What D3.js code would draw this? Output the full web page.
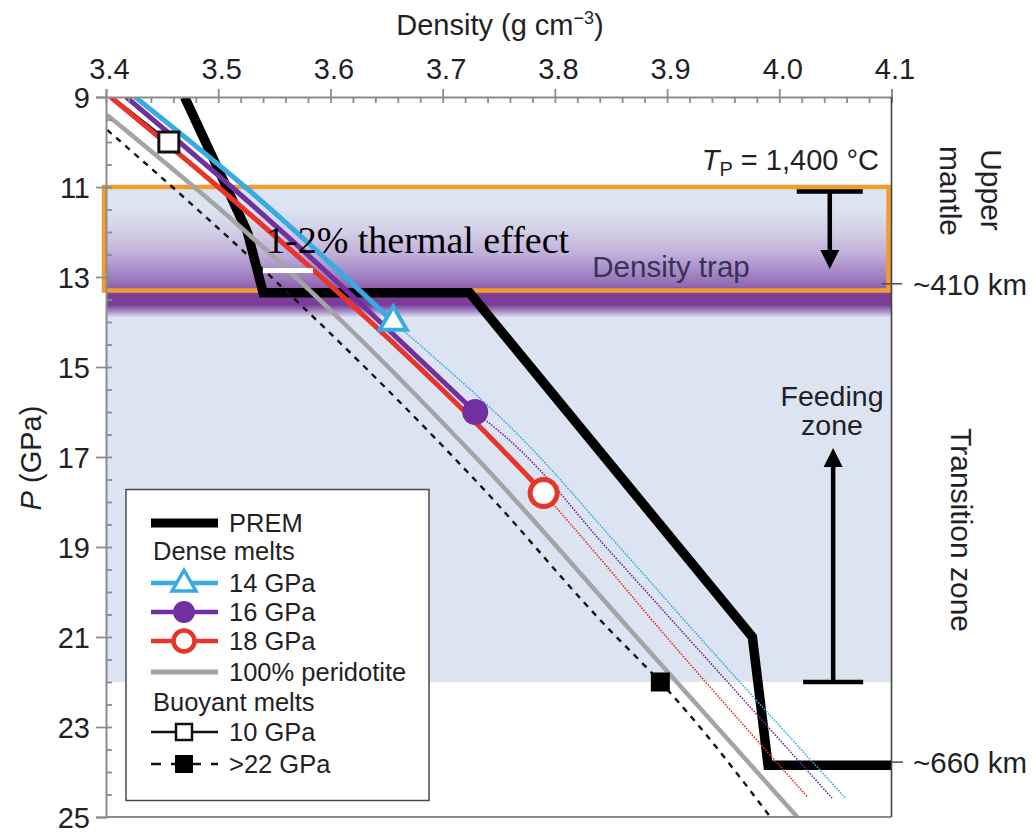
<!DOCTYPE html>
<html>
<head>
<meta charset="utf-8">
<script src="https://cdn.jsdelivr.net/npm/d3@7"></script>
<style>
  html, body { margin: 0; padding: 0; background: #fff; }
  svg { display: block; font-family: "Liberation Sans", Arial, sans-serif; }
</style>
</head>
<body>
<svg id="chart" width="1034" height="833"></svg>
<script>
// ---- data: [density g/cm3, pressure GPa] ----
const densityTicks = [3.4, 3.5, 3.6, 3.7, 3.8, 3.9, 4.0, 4.1];
const pressureTicks = [9, 11, 13, 15, 17, 19, 21, 23, 25];

const prem = [[3.470, 9.0], [3.526, 12.0], [3.540, 13.35], [3.724, 13.35],
              [3.976, 21.0], [3.990, 23.85], [4.1, 23.85]];

const melt14Solid  = [[3.426, 9.0], [3.524, 11.0], [3.656, 14.0]];
const melt14Dotted = [[3.656, 14.0], [3.763, 16.4], [3.860, 19.07], [3.923, 20.84], [4.059, 24.58]];
const melt16Solid  = [[3.418, 9.0], [3.512, 11.0], [3.729, 16.0]];
const melt16Dotted = [[3.729, 16.0], [3.749, 16.4], [3.848, 19.07], [3.912, 20.84], [4.047, 24.58]];
const melt18Solid  = [[3.404, 9.0], [3.500, 11.0], [3.736, 16.4], [3.790, 17.8]];
const melt18Dotted = [[3.790, 17.8], [3.834, 19.07], [3.894, 20.84], [4.025, 24.55]];
const peridotite   = [[3.401, 9.4], [3.502, 11.5], [3.733, 17.1], [3.867, 20.84], [4.016, 25.0]];
const buoyant10    = [[3.405, 9.0], [3.456, 10.0]];
const buoyant22    = [[3.401, 9.73], [3.502, 11.96], [3.733, 17.62], [3.846, 20.77], [3.894, 22.0], [3.992, 25.0]];

const marker14 = [3.656, 14.0];
const marker16 = [3.729, 16.0];
const marker18 = [3.790, 17.8];
const marker10 = [3.456, 10.0];
const marker22 = [3.894, 22.0];

// pressure ranges of the shaded zones
const transitionZone = [11, 22];
const densityTrap = [11, 13.3];
const trapGlow = [11.5, 13.9];
const discontinuity410 = 13.15;
const discontinuity660 = 23.78;

// arrows: [density, start pressure, tip pressure]
const trapArrow = [4.045, 11.1, 12.82];
const feedArrow = [4.048, 22.0, 16.8];

const legendLabels = ["PREM", "Dense melts", "14 GPa", "16 GPa", "18 GPa",
                      "100% peridotite", "Buoyant melts", "10 GPa", ">22 GPa"];

// ---- styles ----
const C = {
  text: "#231f26", axis: "#8c8c8c", blue: "#38ace2", purple: "#7030a0",
  red: "#e8352b", grey: "#a4a4a4", orange: "#f39c2e", band: "#dbe4f0"
};

const svg = d3.select("#chart");
const x = d3.scaleLinear().domain([3.4, 4.1]).range([106, 891.5]);
const y = d3.scaleLinear().domain([9, 25]).range([97, 817]);
const [x0, x1] = x.range(), [y0, y1] = y.range();

const defs = svg.append("defs");
defs.append("clipPath").attr("id", "plot")
  .append("rect").attr("x", x0).attr("y", y0).attr("width", x1 - x0).attr("height", y1 - y0);

// purple glow around the 410 km discontinuity
const glowStops = [[11.5, C.band], [12.0, "#d4cde6"], [12.5, "#bfaed9"], [12.9, "#a587c6"],
                   [13.2, "#9168b1"], [13.4, "#7b3d99"], [13.62, "#7b3d99"], [13.76, "#a68cc5"],
                   [13.9, C.band]];
const grad = defs.append("linearGradient").attr("id", "glow")
  .attr("gradientUnits", "userSpaceOnUse")
  .attr("x1", 0).attr("x2", 0).attr("y1", y(trapGlow[0])).attr("y2", y(trapGlow[1]));
glowStops.forEach(([p, c]) => grad.append("stop")
  .attr("offset", (p - trapGlow[0]) / (trapGlow[1] - trapGlow[0])).attr("stop-color", c));

// ---- background zones ----
svg.append("rect").attr("x", x0).attr("width", x1 - x0)
  .attr("y", y(transitionZone[0])).attr("height", y(transitionZone[1]) - y(transitionZone[0]))
  .attr("fill", C.band);
svg.append("rect").attr("x", x0).attr("width", x1 - x0)
  .attr("y", y(trapGlow[0])).attr("height", y(trapGlow[1]) - y(trapGlow[0]))
  .attr("fill", "url(#glow)");
svg.append("rect").attr("x", x0 - 2).attr("width", x1 - x0 - 1)
  .attr("y", y(densityTrap[0])).attr("height", y(densityTrap[1]) - y(densityTrap[0]))
  .attr("fill", "none").attr("stroke", C.orange).attr("stroke-width", 4.5);

// ---- curves ----
const plot = svg.append("g").attr("clip-path", "url(#plot)");
const straight = d3.line().x(d => x(d[0])).y(d => y(d[1]));
const smooth = d3.line().x(d => x(d[0])).y(d => y(d[1])).curve(d3.curveMonotoneY);

function draw(data, gen, color, width, dash) {
  plot.append("path").datum(data).attr("d", gen).attr("fill", "none")
    .attr("stroke", color).attr("stroke-width", width)
    .attr("stroke-linejoin", "miter").attr("stroke-dasharray", dash || null);
}
draw(prem, straight, "#000", 9.5);
draw(peridotite, smooth, C.grey, 4.5);
draw(buoyant22, smooth, "#111", 2.4, "6,6");
draw(buoyant10, straight, "#111", 3);
draw(melt14Dotted, smooth, C.blue, 1.6, "1.6,1.3");
draw(melt16Dotted, smooth, C.purple, 1.6, "1.6,1.3");
draw(melt18Dotted, smooth, C.red, 1.6, "1.6,1.3");
draw(melt18Solid, smooth, C.red, 5);
draw(melt16Solid, smooth, C.purple, 5);
draw(melt14Solid, smooth, C.blue, 5);

// ---- markers ----
function triangle(g, cx, cy, side, sw) {
  g.append("path").attr("d", d3.symbol(d3.symbolTriangle, side * side * Math.sqrt(3) / 4)())
    .attr("transform", `translate(${cx},${cy})`)
    .attr("fill", "#fff").attr("stroke", C.blue).attr("stroke-width", sw).attr("stroke-linejoin", "miter");
}
function square(g, cx, cy, s, fill, sw) {
  g.append("rect").attr("x", cx - s / 2).attr("y", cy - s / 2).attr("width", s).attr("height", s)
    .attr("fill", fill).attr("stroke", "#111").attr("stroke-width", sw);
}
const mk = svg.append("g");
triangle(mk, x(marker14[0]), y(marker14[1]), 27, 4);
mk.append("circle").attr("cx", x(marker16[0])).attr("cy", y(marker16[1])).attr("r", 13).attr("fill", C.purple);
mk.append("circle").attr("cx", x(marker18[0])).attr("cy", y(marker18[1])).attr("r", 13.5)
  .attr("fill", "#fff").attr("stroke", C.red).attr("stroke-width", 5);
square(mk, x(marker10[0]), y(marker10[1]), 20, "#fff", 3);
square(mk, x(marker22[0]), y(marker22[1]), 19, "#000", 0);

// ---- annotations ----
svg.append("text").attr("x", 266).attr("y", 253)
  .attr("font-family", "'Liberation Serif', 'Times New Roman', serif").attr("font-size", 38)
  .attr("fill", "#000").text("1-2% thermal effect");
svg.append("rect").attr("x", 263).attr("y", 268).attr("width", 50).attr("height", 5).attr("fill", "#fff");

svg.append("text").attr("x", 671).attr("y", 277).attr("text-anchor", "middle")
  .attr("font-size", 29.5).attr("fill", "#38325a").text("Density trap");

const tp = svg.append("text").attr("x", 879).attr("y", 170).attr("text-anchor", "end")
  .attr("font-size", 29).attr("fill", C.text);
tp.append("tspan").attr("font-style", "italic").text("T");
tp.append("tspan").attr("font-size", 20).attr("dy", 6).text("P");
tp.append("tspan").attr("dy", -6).text(" = 1,400 \u00B0C");

const feed = svg.append("text").attr("text-anchor", "middle").attr("font-size", 28.5).attr("fill", C.text);
feed.append("tspan").attr("x", 832).attr("y", 406).text("Feeding");
feed.append("tspan").attr("x", 832).attr("y", 435).text("zone");

function arrow(a, barHalf) {
  const ax = x(a[0]), ys = y(a[1]), yt = y(a[2]);
  const dir = Math.sign(yt - ys), head = 19, hw = 9.5;
  const g = svg.append("g");
  g.append("line").attr("x1", ax - barHalf).attr("x2", ax + barHalf).attr("y1", ys).attr("y2", ys)
    .attr("stroke", "#000").attr("stroke-width", 4.5);
  g.append("line").attr("x1", ax).attr("x2", ax).attr("y1", ys).attr("y2", yt - dir * head)
    .attr("stroke", "#000").attr("stroke-width", 4.5);
  g.append("path").attr("fill", "#000")
    .attr("d", `M${ax - hw},${yt - dir * head}L${ax + hw},${yt - dir * head}L${ax},${yt}Z`);
}
arrow(trapArrow, 33);
arrow(feedArrow, 30);

// ---- legend ----
const lg = svg.append("g");
lg.append("rect").attr("x", 126).attr("y", 489.5).attr("width", 303).attr("height", 311)
  .attr("fill", "#fff").attr("stroke", "#4a4a4a").attr("stroke-width", 1.5);
const rowY = [523, 551, 583, 612, 641, 672, 702, 732, 764];
const lx0 = 151, lx1 = 218, lmx = 184;
function legLine(yy, color, w, dash) {
  lg.append("line").attr("x1", lx0).attr("x2", lx1).attr("y1", yy).attr("y2", yy)
    .attr("stroke", color).attr("stroke-width", w).attr("stroke-dasharray", dash || null);
}
legLine(rowY[0], "#000", 9);
legLine(rowY[2], C.blue, 4.5); triangle(lg, lmx, rowY[2] + 1, 24, 3.5);
legLine(rowY[3], C.purple, 4.5);
lg.append("circle").attr("cx", lmx).attr("cy", rowY[3]).attr("r", 11).attr("fill", C.purple);
legLine(rowY[4], C.red, 4.5);
lg.append("circle").attr("cx", lmx).attr("cy", rowY[4]).attr("r", 10.5)
  .attr("fill", "#fff").attr("stroke", C.red).attr("stroke-width", 4.5);
legLine(rowY[5], C.grey, 5);
legLine(rowY[7], "#111", 2.5); square(lg, lmx, rowY[7], 16, "#fff", 2.5);
legLine(rowY[8], "#111", 2.5, "10,10"); square(lg, lmx, rowY[8], 18, "#000", 0);
legendLabels.forEach((t, i) => {
  const header = (i === 1 || i === 6);
  lg.append("text").attr("x", header ? 153 : 229).attr("y", rowY[i] + 9)
    .attr("font-size", 25.5).attr("fill", C.text).text(t);
});

// ---- axes ----
const axG = svg.append("g");
// top axis: labelled major ticks plus inward minor ticks
const topMajor = axG.append("g").attr("transform", `translate(0,${y0})`)
  .call(d3.axisTop(x).tickValues(densityTicks).tickSize(8).tickPadding(10).tickFormat(d3.format(".1f")));
const topMinor = axG.append("g").attr("transform", `translate(0,${y0})`)
  .call(d3.axisBottom(x).tickValues(d3.range(3.4, 4.1001, 0.02)).tickSize(6).tickFormat(""));
topMinor.select(".domain").remove();
// left axis
const leftMajor = axG.append("g").attr("transform", `translate(${x0},0)`)
  .call(d3.axisLeft(y).tickValues(pressureTicks).tickSize(10).tickPadding(6));
const leftMinor = axG.append("g").attr("transform", `translate(${x0},0)`)
  .call(d3.axisRight(y).tickValues(d3.range(9.5, 25, 0.5)).tickSize(6).tickFormat(""));
leftMinor.select(".domain").remove();
axG.selectAll(".domain").attr("stroke", C.axis).attr("stroke-width", 2);
axG.selectAll(".tick line").attr("stroke", C.axis).attr("stroke-width", 1.8);
axG.selectAll(".tick text").attr("font-size", 29).attr("fill", C.text)
  .attr("font-family", "'Liberation Sans', Arial, sans-serif");
topMajor.selectAll(".tick text").attr("dx", 3);
leftMajor.selectAll(".tick text").attr("dy", "0.36em");

// bottom and right frame lines
svg.append("line").attr("x1", x0).attr("x2", x1).attr("y1", y1).attr("y2", y1)
  .attr("stroke", C.axis).attr("stroke-width", 2);
svg.append("line").attr("x1", x1).attr("x2", x1).attr("y1", y0).attr("y2", y1)
  .attr("stroke", "#444").attr("stroke-width", 1.6);

// axis titles
const title = svg.append("text").attr("x", 500).attr("y", 35).attr("text-anchor", "middle")
  .attr("font-size", 29).attr("fill", C.text);
title.append("tspan").text("Density (g cm");
title.append("tspan").attr("font-size", 18).attr("dy", -11).text("\u22123");
title.append("tspan").attr("dy", 11).text(")");

const ylab = svg.append("text").attr("transform", "translate(41,458) rotate(-90)")
  .attr("text-anchor", "middle").attr("font-size", 29).attr("fill", C.text);
ylab.append("tspan").attr("font-style", "italic").text("P");
ylab.append("tspan").text(" (GPa)");

// depth markers on the right
[[discontinuity410, 882, 902, "~410 km"], [discontinuity660, x1, 903, "~660 km"]].forEach(([p, a, b, t]) => {
  svg.append("line").attr("x1", a).attr("x2", b).attr("y1", y(p)).attr("y2", y(p))
    .attr("stroke", "#555").attr("stroke-width", 1.6);
  svg.append("text").attr("x", 913).attr("y", y(p) + 11).attr("font-size", 29.5)
    .attr("fill", C.text).text(t);
});

// region names
function vlabel(cx, cy, t) {
  svg.append("text").attr("transform", `translate(${cx},${cy}) rotate(90)`)
    .attr("text-anchor", "middle").attr("font-size", 30).attr("fill", C.text).text(t);
}
vlabel(981, 190, "Upper");
vlabel(940, 191, "mantle");
vlabel(951, 530, "Transition zone");
</script>
</body>
</html>
